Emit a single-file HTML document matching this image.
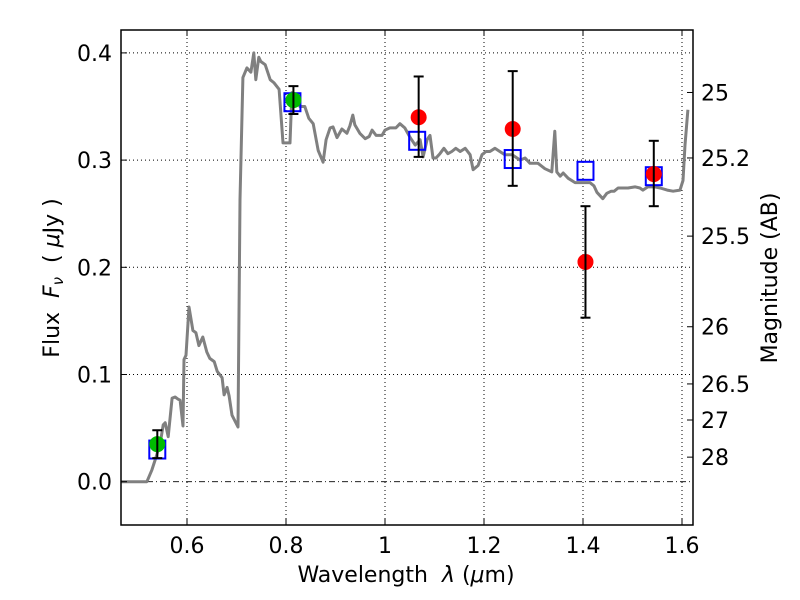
<!DOCTYPE html>
<html><head><meta charset="utf-8"><style>
html,body{margin:0;padding:0;background:#fff;}
svg{display:block;font-family:"DejaVu Sans","Liberation Sans",sans-serif;}
</style></head><body>
<svg id="chart" width="800" height="600" viewBox="0 0 800 600"></svg>
<script>
const specWave=[0.467,0.519,0.529,0.539,0.547,0.552,0.556,0.562,0.570,0.576,0.582,0.586,0.592,0.594,0.598,0.604,0.612,0.618,0.624,0.632,0.640,0.646,0.655,0.661,0.671,0.675,0.681,0.685,0.691,0.703,0.707,0.713,0.721,0.729,0.735,0.739,0.745,0.749,0.758,0.768,0.776,0.786,0.794,0.808,0.812,0.820,0.828,0.838,0.846,0.855,0.865,0.875,0.881,0.889,0.895,0.903,0.913,0.923,0.929,0.935,0.939,0.949,0.960,0.968,0.974,0.982,0.994,1.000,1.010,1.022,1.030,1.040,1.051,1.061,1.071,1.077,1.085,1.091,1.097,1.103,1.111,1.119,1.127,1.135,1.143,1.152,1.162,1.172,1.178,1.188,1.196,1.204,1.212,1.222,1.232,1.242,1.257,1.273,1.283,1.293,1.309,1.323,1.337,1.343,1.347,1.354,1.360,1.370,1.384,1.394,1.404,1.414,1.422,1.428,1.440,1.448,1.457,1.463,1.471,1.479,1.491,1.505,1.515,1.521,1.531,1.545,1.556,1.570,1.582,1.596,1.602,1.606,1.612,1.616];
const specFlux=[0,0,0.011,0.025,0.039,0.053,0.055,0.042,0.078,0.079,0.077,0.076,0.052,0.114,0.118,0.163,0.141,0.139,0.127,0.135,0.121,0.115,0.112,0.103,0.097,0.081,0.088,0.080,0.062,0.051,0.263,0.377,0.386,0.382,0.400,0.375,0.396,0.392,0.389,0.375,0.372,0.366,0.316,0.316,0.363,0.357,0.350,0.350,0.339,0.334,0.309,0.298,0.319,0.330,0.331,0.321,0.329,0.325,0.332,0.342,0.333,0.325,0.320,0.322,0.328,0.323,0.323,0.328,0.330,0.330,0.334,0.330,0.321,0.314,0.319,0.303,0.319,0.323,0.302,0.302,0.306,0.311,0.306,0.308,0.311,0.308,0.311,0.305,0.291,0.295,0.305,0.308,0.308,0.311,0.308,0.305,0.305,0.300,0.302,0.297,0.297,0.292,0.289,0.327,0.289,0.285,0.288,0.283,0.279,0.279,0.279,0.279,0.276,0.270,0.264,0.269,0.271,0.271,0.274,0.274,0.274,0.275,0.274,0.272,0.275,0.275,0.274,0.272,0.271,0.272,0.281,0.314,0.347];
const redWave=[1.068,1.258,1.405,1.543];
const redFlux=[0.340,0.329,0.205,0.287];
const redLo=[0.303,0.276,0.153,0.257];
const redHi=[0.378,0.383,0.257,0.318];
const greenWave=[0.540,0.815];
const greenFlux=[0.035,0.356];
const greenLo=[0.022,0.343];
const greenHi=[0.048,0.369];
const boxWave=[0.540,0.813,1.065,1.258,1.405,1.543];
const boxFlux=[0.030,0.354,0.318,0.301,0.290,0.285];
const xTicks=[0.6,0.8,1.0,1.2,1.4,1.6];
const xTickLabels=["0.6","0.8","1","1.2","1.4","1.6"];
const yTicks=[0,0.1,0.2,0.3,0.4];
const yTickLabels=["0.0","0.1","0.2","0.3","0.4"];
const magTicks=[25,25.2,25.5,26,26.5,27,28];
const magTickLabels=["25","25.2","25.5","26","26.5","27","28"];

const L=121,R=693,T=30,B=525;
const X=v=>385+(v-1)*495;
const Y=v=>481.7-v*1072;
const NS="http://www.w3.org/2000/svg";
const svg=document.getElementById('chart');
function mk(tag,attrs,parent){const e=document.createElementNS(NS,tag);for(const k in attrs)e.setAttribute(k,attrs[k]);(parent||svg).appendChild(e);return e;}

const grid=mk('g',{});


xTicks.forEach(v=>{const l=mk('line',{x1:X(v),x2:X(v),y1:T,y2:B,stroke:'#000','stroke-width':1,'stroke-dasharray':'1,3'},grid);

});
yTicks.forEach(v=>{if(v===0)return;const l=mk('line',{x1:L,x2:R,y1:Y(v),y2:Y(v),stroke:'#000','stroke-width':1,'stroke-dasharray':'1,3'},grid);

});
const zl=mk('line',{x1:L,x2:R,y1:Y(0),y2:Y(0),stroke:'#000','stroke-width':0.8,'stroke-dasharray':'6,3,1,3'});



const d=specWave.map((w,i)=>(i?'L':'M')+X(w).toFixed(1)+','+Y(specFlux[i]).toFixed(1)).join('');
const sp=mk('path',{d:d,fill:'none',stroke:'#808080','stroke-width':3,'stroke-linejoin':'round'});



boxWave.forEach((w,i)=>{const r=mk('rect',{x:X(w)-8,y:Y(boxFlux[i])-9,width:16,height:18,fill:'none',stroke:'#0000ff','stroke-width':2});

});

function pts(ws,fs,lo,hi,col,name){ws.forEach((w,i)=>{
 const g=mk('g',{});
 
 
 mk('circle',{cx:X(w),cy:Y(fs[i]),r:8,fill:col},g);
 mk('line',{x1:X(w),x2:X(w),y1:Y(lo[i]),y2:Y(hi[i]),stroke:'#000','stroke-width':2},g);
 mk('line',{x1:X(w)-5,x2:X(w)+5,y1:Y(lo[i]),y2:Y(lo[i]),stroke:'#000','stroke-width':2},g);
 mk('line',{x1:X(w)-5,x2:X(w)+5,y1:Y(hi[i]),y2:Y(hi[i]),stroke:'#000','stroke-width':2},g);
});}
pts(greenWave,greenFlux,greenLo,greenHi,'#00bb00','green-data-point');
pts(redWave,redFlux,redLo,redHi,'#ff0000','red-data-point');

const fr=mk('rect',{x:L,y:T,width:R-L,height:B-T,fill:'none',stroke:'#000','stroke-width':1.5});



xTicks.forEach((v,i)=>{mk('line',{x1:X(v),x2:X(v),y1:B,y2:B-6,stroke:'#000'});mk('line',{x1:X(v),x2:X(v),y1:T,y2:T+6,stroke:'#000'});
 const t=mk('text',{x:X(v),y:B+28,'text-anchor':'middle','font-size':22});t.textContent=xTickLabels[i];
 
 });
yTicks.forEach((v,i)=>{mk('line',{x1:L,x2:L+6,y1:Y(v),y2:Y(v),stroke:'#000'});
 const t=mk('text',{x:L-9,y:Y(v)+8,'text-anchor':'end','font-size':22});t.textContent=yTickLabels[i];
 
 });
magTicks.forEach((m,i)=>{const f=Math.pow(10,(23.9-m)/2.5);const y=Y(f);
 mk('line',{x1:R,x2:R-6,y1:y,y2:y,stroke:'#000'});
 const t=mk('text',{x:R+8,y:y+8,'font-size':22});t.textContent=magTickLabels[i];
 
 });

const xt=mk('text',{x:406,y:582,'text-anchor':'middle','font-size':22});
xt.innerHTML='Wavelength &#160;<tspan font-style="italic">λ</tspan> (<tspan font-style="italic">μ</tspan>m)';


const yt=mk('text',{x:0,y:0,'text-anchor':'middle','font-size':22,transform:'translate(59,278) rotate(-90)'});
yt.innerHTML='Flux &#160;<tspan font-style="italic">F</tspan><tspan font-style="italic" font-size="15" dy="4">ν</tspan><tspan dy="-4"> &#160;( </tspan><tspan font-style="italic">μ</tspan>Jy )';


const rt=mk('text',{x:0,y:0,'text-anchor':'middle','font-size':22,transform:'translate(777,278) rotate(-90)'});
rt.textContent='Magnitude (AB)';


</script>
</body></html>
